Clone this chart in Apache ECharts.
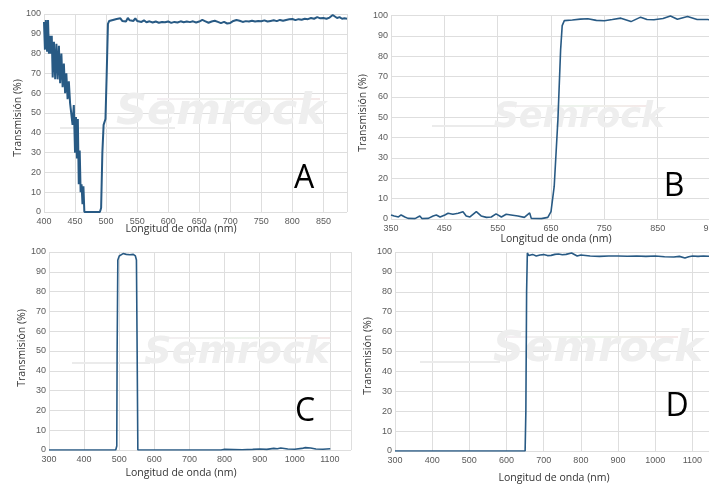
<!DOCTYPE html>
<html><head><meta charset="utf-8">
<script src="https://cdn.jsdelivr.net/npm/echarts@6/dist/echarts.min.js"></script>
<style>html,body{margin:0;padding:0;background:#fff}#c{width:709px;height:484px}</style>
</head><body><div id="c"></div>
<script>
// Panel A: wavelength (nm), transmission (%)
const aWave = [400,401.5,403,405,406.5,408,409.5,411,412.5,414,416,418,420,422,424,426,428,430,432,434,436,438,440,442,444,446,448,450,451.5,453,454.5,456,457.5,459,460.5,462,463.5,465,470,480,490,492,494,496,499,501,503,505,508,511,514,517,520,523,526,529,532,535,538,541,544,547,550,553,557,561,565,570,575,580,585,590,595,600,605,610,615,620,625,630,635,640,645,650,655,660,665,670,675,680,685,690,695,700,705,710,715,720,725,730,735,740,745,750,755,760,765,770,775,780,785,790,795,800,805,810,815,820,825,830,835,840,845,850,855,860,865,868,872,876,880,884,888];
const aTrans = [96,82,97,81,97,80,89,80,89,68,86,67,85,67,84,65,80,63,75,60,70,57,66,55,56,44,54,30,48,27,47,14,31,10,14,4,13,0,0,0,0,2,30,44,47,70,95,96.5,96,97,96.3,97.5,96.5,97.8,96.5,97.5,96.2,98,96.8,97.7,96.5,97.8,96.5,97.5,96,96.8,95.8,96.3,95.7,96.2,95.6,96,95.8,96.2,95.5,96,95.7,96.3,95.8,96.2,95.9,96.3,95.7,96.2,97,96.3,95.6,96.2,96.6,96,95.4,96,95.2,95.5,96.5,97,96.6,96,96.4,96.2,96.6,96.2,96.5,96.3,96.8,96.2,96.5,96.8,96.4,97,96.6,97,97.3,97.5,96.9,97.4,97.1,97.6,97.4,98,97.6,98.4,97.8,98,97.6,98.2,99.5,99,98,98.4,97.6,97.8,97.6];
// Panel B
const bWave = [350,356,364,369,376,382,395,404,408,420,429,435,442,451,457,466,476,485,491,498,510,519,529,538,547,557,566,575,588,600,610,613,632,644,650,656,663,668,671,675,690,705,719,735,750,765,781,800,818,830,843,860,874,887,906,924,944,950];
const bTrans = [2,1.5,1,2,1,0.3,0.2,1.5,0.2,0.3,1.5,2,1,2,2.8,2.3,2.8,3.6,1.5,1,3.6,1.5,0.8,1,2.5,1,2.3,2,1.5,0.8,3,0.3,0.2,0.8,3.6,16,49,83,95,97.5,97.8,98.2,98.4,97.6,97.4,98,98.7,97,99.2,98,97.9,98.5,99.8,98.2,99.5,98,98,97.8];
// Panel C
const cWave = [300,400,490,493,494,496,500,505,511,520,530,540,546,549,551,553,600,700,790,800,850,880,900,920,940,950,960,980,1000,1020,1030,1045,1060,1080,1101];
const cTrans = [0,0,0,2,50,96,98,98.5,99.2,98.8,98.6,98.8,98,96,50,0,0,0,0,0.3,0.1,0.3,0.5,0.3,0.8,0.6,1,0.5,0.4,0.8,1.2,1,0.5,0.4,0.6];
// Panel D
const dWave = [300,400,500,600,650,652,654,656,660,670,680,690,700,710,720,730,740,750,760,775,790,800,825,850,875,900,925,950,975,1000,1025,1050,1065,1080,1090,1100,1115,1130,1150];
const dTrans = [0,0,0,0,0,20,80,99.5,98.2,98.8,98,98.5,98.7,98.2,98.3,98.8,99,98.6,98.8,99.5,98,98.5,98,97.8,98,98,97.9,98,97.8,98,97.6,97.5,97.8,97,97.6,98,97.8,98,97.8];

const xMin = [400,350,300,300], xMax = [888,950,1160,1150];
const xStep = [50,100,100,100];
const letters = ['A','B','C','D'];
const yTitle = 'Transmisión (%)', xTitle = 'Longitud de onda (nm)';
const waves = [aWave,bWave,cWave,dWave], trans = [aTrans,bTrans,cTrans,dTrans];

const grids = [
  {left:44, top:14, width:303, height:198, outerBoundsMode:'none'},
  {left:391, top:15.5, width:320, height:203.5, outerBoundsMode:'none'},
  {left:49, top:252, width:302, height:198, outerBoundsMode:'none'},
  {left:395, top:252, width:316, height:199, outerBoundsMode:'none'}
];
const lineColor = '#285a84';
const chart = echarts.init(document.getElementById('c'));
const xAxes = [], yAxes = [], series = [];
for (let i=0;i<4;i++){
  xAxes.push({type:'value', gridIndex:i, min:xMin[i], max:xMax[i], interval:xStep[i],
    axisLine:{show:false}, axisTick:{show:false},
    splitLine:{show:true, lineStyle:{color:'#dedede', width:1}},
    axisLabel:{color:'#5a5a5a', fontSize:9, fontFamily:'Liberation Sans', margin:5, showMaxLabel: i===1, hideOverlap:false,
      formatter: v => ((v - xMin[i]) % xStep[i] === 0 ? String(v) : '')}});
  yAxes.push({type:'value', gridIndex:i, min:0, max:100, interval:10,
    axisLine:{show:false}, axisTick:{show:false},
    splitLine:{show:true, lineStyle:{color:'#dedede', width:1}},
    axisLabel:{color:'#5a5a5a', fontSize:9, fontFamily:'Liberation Sans', margin:3}});
  series.push({type:'line', xAxisIndex:i, yAxisIndex:i, showSymbol:false, symbol:'none',
    data: waves[i].map((w,k)=>[w, trans[i][k]]),
    lineStyle:{color:lineColor, width: i===0 ? 2 : 1.6}, z:5, animation:false});
}
const tfont = '10.5px "Open Sans"';
const titles = [
  {x:181,y:229, yx:18,yy:118},
  {x:556,y:239, yx:363,yy:113},
  {x:181,y:473, yx:22,yy:348},
  {x:554,y:478, yx:368,yy:356}
];
const letterPos = [[304,179],[674,187],[305,412],[677,407]];
const wm = [
  {x:221,y:113,fs:43, l1:[60,128,175,128], l2:[157,99,320,99]},
  {x:579,y:118,fs:35, l1:[432,126,500,126], l2:[505,106,648,106]},
  {x:237,y:353,fs:38, l1:[72,363,150,363], l2:[157,338,330,338]},
  {x:598,y:350,fs:43, l1:[420,362,500,362], l2:[505,337,678,337]}
];
const graphic = [];
for (let i=0;i<4;i++){
  graphic.push({type:'line', shape:{x1:wm[i].l1[0],y1:wm[i].l1[1],x2:wm[i].l1[2],y2:wm[i].l1[3]}, style:{stroke:'#ebebeb', lineWidth:2}, z:1});
  graphic.push({type:'line', shape:{x1:wm[i].l2[0],y1:wm[i].l2[1],x2:wm[i].l2[2],y2:wm[i].l2[3]},
    style:{stroke:new echarts.graphic.LinearGradient(0,0,1,0,[{offset:0,color:'#f4eef2'},{offset:0.5,color:'#edf3ec'},{offset:1,color:'#f5e9e9'}]), lineWidth:2}, z:1});
  graphic.push({type:'text', x:wm[i].x, y:wm[i].y, z:1, style:{text:'Semrock', fill:'#eeeeee',
    font:'italic bold '+wm[i].fs+'px "DejaVu Sans"', textAlign:'center', textVerticalAlign:'middle'}});
  graphic.push({type:'text', x:titles[i].x, y:titles[i].y, z:10, style:{text:xTitle, fill:'#333', font:tfont, textAlign:'center', textVerticalAlign:'middle'}});
  graphic.push({type:'text', x:titles[i].yx, y:titles[i].yy, rotation:Math.PI/2, z:10, style:{text:yTitle, fill:'#333', font:tfont, textAlign:'center', textVerticalAlign:'middle'}});
  graphic.push({type:'text', x:letterPos[i][0], y:letterPos[i][1], z:10, style:{text:letters[i], fill:'#000', font:'32px "Open Sans"', textAlign:'center', textVerticalAlign:'middle'}});
}
chart.setOption({animation:false, backgroundColor:'#fff', grid:grids, xAxis:xAxes, yAxis:yAxes, series, graphic});
</script></body></html>
